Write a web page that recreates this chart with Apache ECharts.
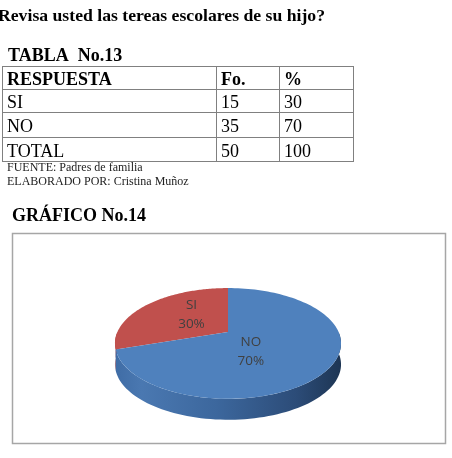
<!DOCTYPE html>
<html><head><meta charset="utf-8">
<script src="https://cdn.jsdelivr.net/npm/echarts@6/dist/echarts.min.js"></script>
<style>html,body{margin:0;padding:0;background:#fff}#c{width:452px;height:458px}</style>
</head><body><div id="c"></div>
<script>
// ---- data ----
const questionTitle = 'Revisa usted las tereas escolares de su hijo?';
const tableTitle = 'TABLA  No.13';
const tableHeader = ['RESPUESTA', 'Fo.', '%'];
const categories = ['SI', 'NO'];
const frequencies = [15, 35];
const percents = [30, 70];
const totalRow = ['TOTAL', 50, 100];
const sourceNotes = ['FUENTE: Padres de familia', 'ELABORADO POR: Cristina Muñoz'];
const chartTitle = 'GRÁFICO No.14';
const sliceColors = ['#c0504d', '#4f81bd'];
const sideStops = [
  [['#a9423f', 0], ['#8e3532', 1]],
  [['#3f6ca5', 0], ['#4a78b1', 0.12], ['#3c679d', 0.45], ['#2c4c78', 0.8], ['#1d3553', 1]]
];

// ---- layout ----
const serif = '"Liberation Serif","Times New Roman",serif';
const colX = [2, 216, 279, 353];
const rowY = [66, 89, 112, 137, 161];
// perspective disk: x = cx + rx*cos/w, y = cy - ry*sin/w, w = 1 + p*sin
const pie = {cx: 228, cy: 332, rx: 110.6, ry: 53, p: 0.206, depth: 21};

const chart = echarts.init(document.getElementById('c'), null, {renderer: 'canvas'});

const g = [];
g.push({type: 'text', x: -2, y: 16, style: {text: questionTitle, font: 'bold 17.7px ' + serif, fill: '#000', verticalAlign: 'middle'}});
g.push({type: 'text', x: 8, y: 56, style: {text: tableTitle, font: 'bold 18px ' + serif, fill: '#000', verticalAlign: 'middle'}});

// table rows built from arrays
const rows = [tableHeader].concat(categories.map((c, i) => [c, frequencies[i], percents[i]])).concat([totalRow]);
rows.forEach((r, ri) => {
  r.forEach((v, ci) => {
    g.push({type: 'text', x: colX[ci] + 5, y: (rowY[ri] + rowY[ri + 1]) / 2 + 3,
      style: {text: String(v), font: (ri === 0 ? 'bold ' : '') + '18px ' + serif, fill: '#000', verticalAlign: 'middle'}});
  });
});
rowY.forEach(y => g.push({type: 'line', shape: {x1: colX[0], y1: y + 0.5, x2: colX[3] + 1, y2: y + 0.5}, style: {stroke: '#808080', lineWidth: 1}}));
colX.forEach(x => g.push({type: 'line', shape: {x1: x + 0.5, y1: rowY[0], x2: x + 0.5, y2: rowY[rowY.length - 1] + 1}, style: {stroke: '#808080', lineWidth: 1}}));

sourceNotes.forEach((t, i) => g.push({type: 'text', x: 7, y: 168 + i * 14, style: {text: t, font: '12px ' + serif, fill: '#222', verticalAlign: 'middle'}}));
g.push({type: 'text', x: 12, y: 216, style: {text: chartTitle, font: 'bold 18px ' + serif, fill: '#000', verticalAlign: 'middle'}});
g.push({type: 'rect', shape: {x: 12.5, y: 233.5, width: 433, height: 210}, style: {fill: '#fff', stroke: '#a6a6a6', lineWidth: 1.5}, z: -1});

// 3D pie via custom series: angles derived from data
const total = percents.reduce((a, b) => a + b, 0);
const startDeg = 90;
const slices = [];
let acc = startDeg;
categories.forEach((c, i) => {
  const span = percents[i] / total * 360;
  slices.push({name: c, value: percents[i], a0: acc, a1: acc + span, color: sliceColors[i], side: sideStops[i]});
  acc += span;
});
function proj(deg, k, dy) {
  const r = deg * Math.PI / 180;
  const c = Math.cos(r) * k, s = Math.sin(r) * k;
  const w = 1 + pie.p * s;
  return [pie.cx + pie.rx * c / w, pie.cy - pie.ry * s / w + (dy || 0)];
}
function arcPts(d0, d1, dy, n) {
  const out = [];
  for (let j = 0; j <= n; j++) out.push(proj(d0 + (d1 - d0) * j / n, 1, dy));
  return out;
}
function renderItem(params, api) {
  const s = slices[params.dataIndex];
  const children = [];
  const ranges = [];
  [[180, 360], [540, 720]].forEach(([fl, fh]) => {
    const lo = Math.max(s.a0, fl), hi = Math.min(s.a1, fh);
    if (hi > lo) ranges.push([lo, hi]);
  });
  ranges.forEach(([l, h]) => {
    const top = arcPts(l, h, 0, 80);
    const bot = arcPts(h, l, pie.depth, 80);
    children.push({type: 'polygon', shape: {points: top.concat(bot)},
      style: {fill: new echarts.graphic.LinearGradient(pie.cx - pie.rx - 3, 0, pie.cx + pie.rx + 3, 0,
        s.side.map(([col, off]) => ({offset: off, color: col})), true)}});
  });
  const pts = [proj(0, 0)].concat(arcPts(s.a0, s.a1, 0, 120));
  children.push({type: 'polygon', shape: {points: pts}, style: {fill: s.color}, z2: 10});
  const mid = (s.a0 + s.a1) / 2;
  const lp = proj(mid, 0.6);
  const lx = pie.cx - 9 + (lp[0] - pie.cx) * 0.55;
  children.push({type: 'text', x: lx, y: lp[1], z2: 20,
    style: {text: s.name + '\n' + s.value + '%', font: '13.5px "Open Sans","Liberation Sans",sans-serif',
      fill: '#404040', align: 'center', verticalAlign: 'middle', lineHeight: 19}});
  return {type: 'group', children: children};
}

chart.setOption({
  animation: false,
  backgroundColor: '#fff',
  graphic: g,
  series: [{
    type: 'custom',
    coordinateSystem: 'none',
    renderItem: renderItem,
    data: categories.map((c, i) => ({name: c, value: percents[i]}))
  }]
});
</script></body></html>
